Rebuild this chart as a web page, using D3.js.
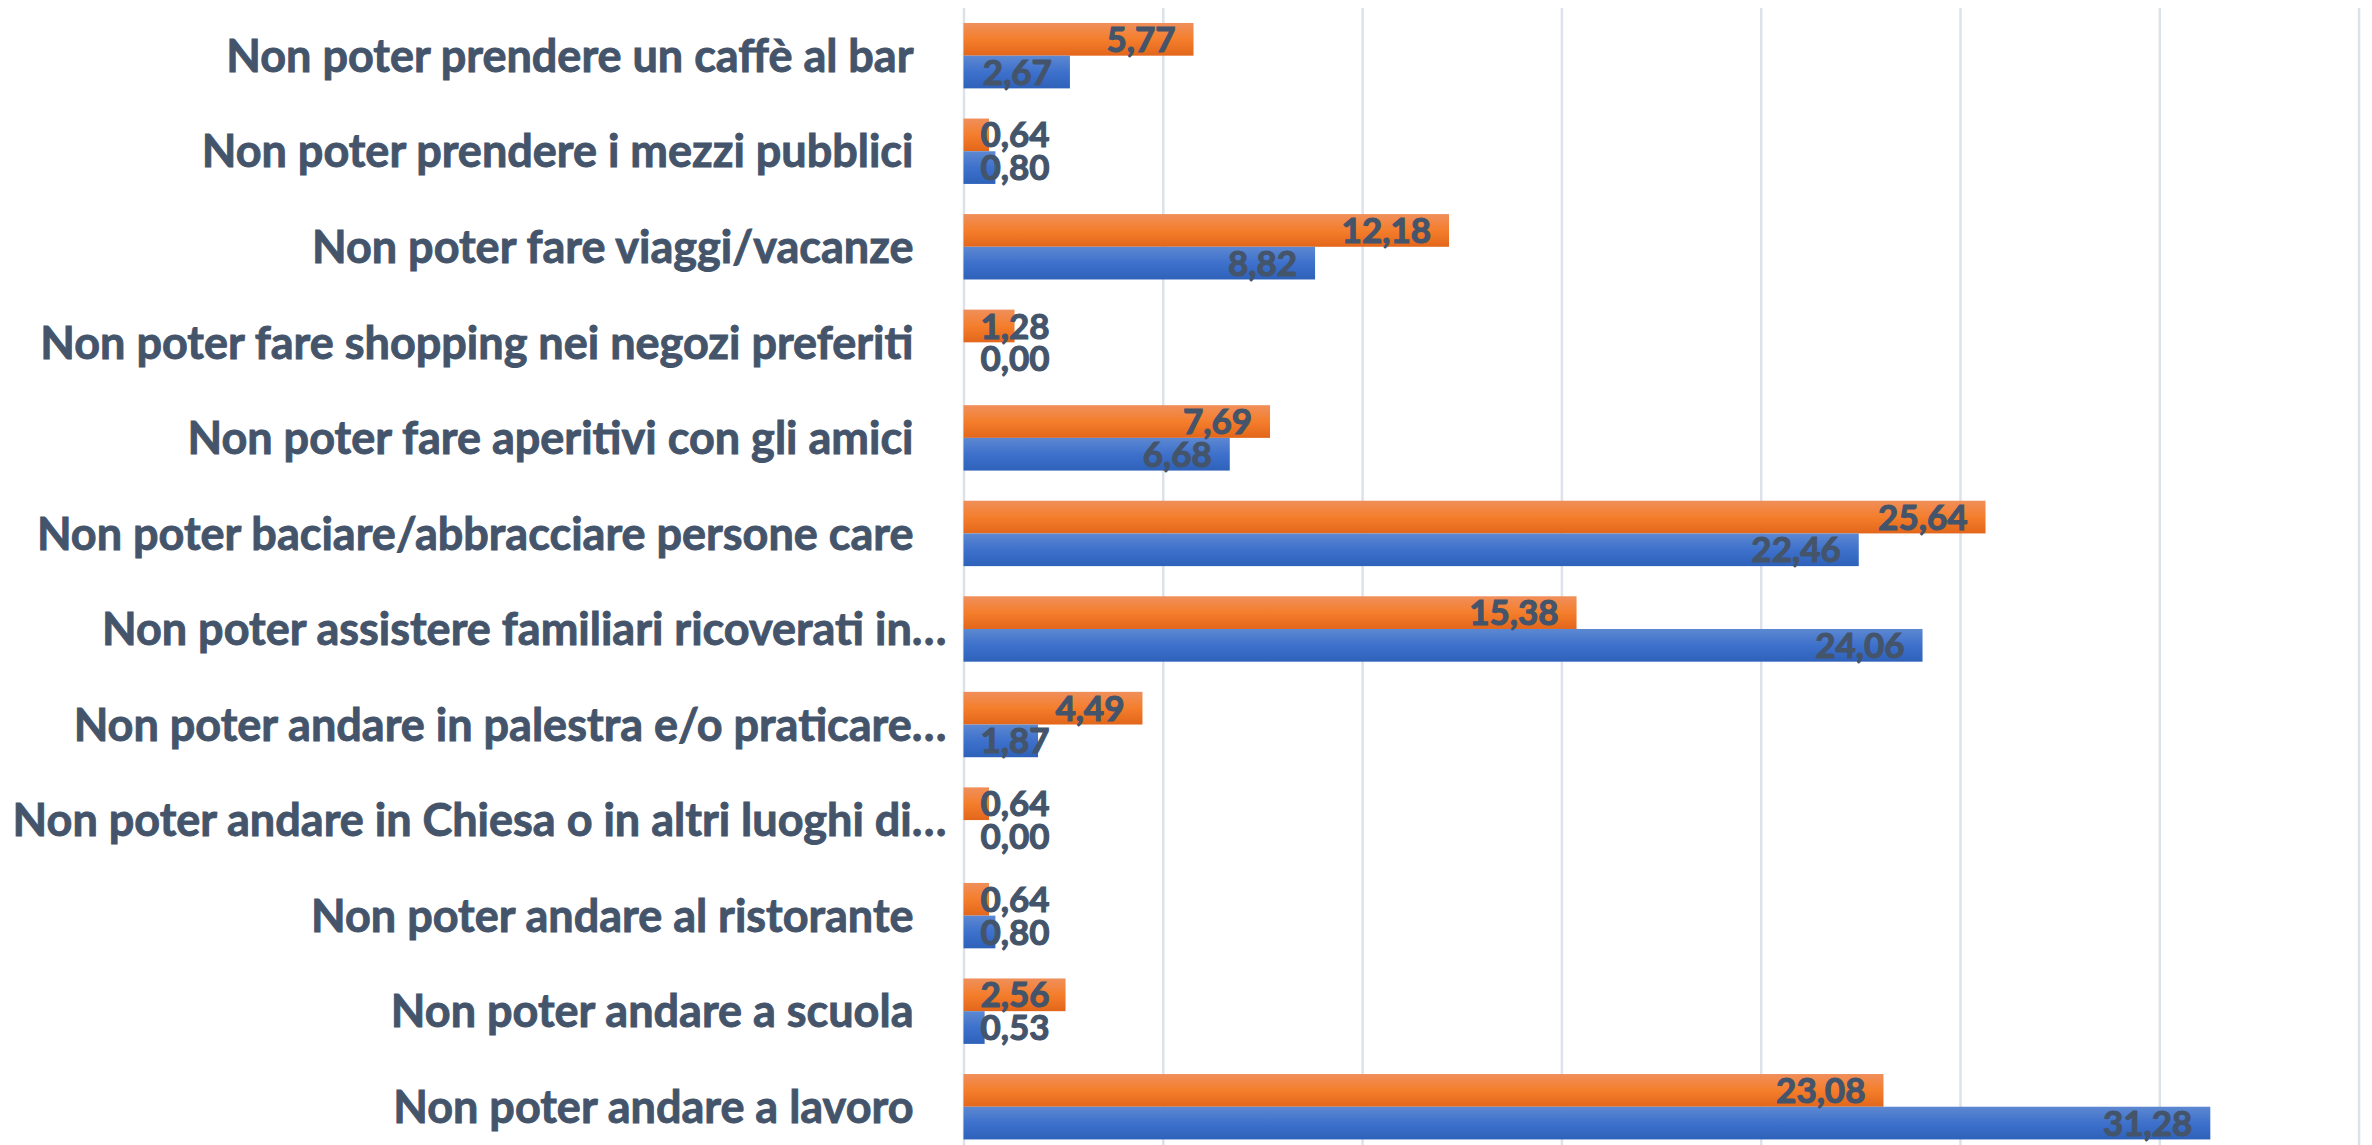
<!DOCTYPE html>
<html><head><meta charset="utf-8">
<script src="https://cdn.jsdelivr.net/npm/d3@7"></script>
<style>html,body{margin:0;padding:0;background:#fff;overflow:hidden}</style>
</head><body>
<svg id="c" width="2372" height="1145"></svg>
<script>
const categories = [
  "Non poter prendere un caffè al bar",
  "Non poter prendere i mezzi pubblici",
  "Non poter fare viaggi/vacanze",
  "Non poter fare shopping nei negozi preferiti",
  "Non poter fare aperitivi con gli amici",
  "Non poter baciare/abbracciare persone care",
  "Non poter assistere familiari ricoverati in…",
  "Non poter andare in palestra e/o praticare…",
  "Non poter andare in Chiesa o in altri luoghi di…",
  "Non poter andare al ristorante",
  "Non poter andare a scuola",
  "Non poter andare a lavoro"
];
const seriesOrange = [5.77, 0.64, 12.18, 1.28, 7.69, 25.64, 15.38, 4.49, 0.64, 0.64, 2.56, 23.08];
const seriesBlue   = [2.67, 0.80, 8.82, 0.00, 6.68, 22.46, 24.06, 1.87, 0.00, 0.80, 0.53, 31.28];
const xTicks = [0, 5, 10, 15, 20, 25, 30, 35];

const svg = d3.select("#c");
const fontFam = "Lato, 'Open Sans', sans-serif";
const textCol = "#44546A";

const x = d3.scaleLinear().domain([0, 35]).range([963.5, 2358.6]);
const y = d3.scaleBand().domain(categories).range([7.9, 1154.5]).paddingInner(0.3155).paddingOuter(0.3155/2);
const ys = d3.scaleBand().domain(["o","b"]).range([0, y.bandwidth()]);

const defs = svg.append("defs");
function grad(id, stops){
  const g = defs.append("linearGradient").attr("id", id).attr("x1",0).attr("y1",0).attr("x2",0).attr("y2",1);
  stops.forEach(s => g.append("stop").attr("offset", s[0]).attr("stop-color", s[1]));
}
grad("gO", [[0,"#F08F5B"],[0.5,"#F47E2C"],[1,"#E3661A"]]);
grad("gB", [[0,"#5D88D1"],[0.5,"#3E71CC"],[1,"#2E61B9"]]);

// gridlines
const gridG = svg.append("g")
  .call(d3.axisBottom(x).tickValues(xTicks).tickSize(1145 - 8).tickFormat(""));
gridG.attr("transform", "translate(0,8)");
gridG.select(".domain").remove();
gridG.selectAll(".tick line").attr("stroke", "#DDE2EA").attr("stroke-width", 2.5);

// category labels
svg.append("g").selectAll("text").data(categories).join("text")
  .attr("x", d => x(0) - (d.endsWith("…") ? 17 : 50))
  .attr("y", d => y(d) + y.bandwidth()/2)
  .attr("dy", "0.36em")
  .attr("text-anchor", "end")
  .attr("font-family", fontFam).attr("font-weight", 700)
  .attr("font-size", 45)
  .attr("fill", textCol)
  .attr("stroke", textCol).attr("stroke-width", 0.9)
  .text(d => d);

const data = [];
categories.forEach((c, i) => {
  data.push({c, k: "o", v: seriesOrange[i]});
  data.push({c, k: "b", v: seriesBlue[i]});
});

svg.append("g").selectAll("rect").data(data).join("rect")
  .attr("x", x(0))
  .attr("y", d => y(d.c) + ys(d.k))
  .attr("width", d => x(d.v) - x(0))
  .attr("height", ys.bandwidth())
  .attr("fill", d => d.k === "o" ? "url(#gO)" : "url(#gB)");

const fmt = v => v.toFixed(2).replace(".", ",");
const lbl = svg.append("g").selectAll("text").data(data).join("text")
  .attr("y", d => y(d.c) + ys(d.k) + ys.bandwidth()/2)
  .attr("dy", "0.36em")
  .attr("font-family", fontFam).attr("font-weight", 700)
  .attr("font-size", 35)
  .attr("fill", textCol)
  .attr("stroke", textCol).attr("stroke-width", 1.1)
  .text(d => fmt(d.v));
lbl.each(function(d){
  const w = this.getComputedTextLength();
  const start = Math.max(x(d.v) - 18 - w, x(0) + 17);
  d3.select(this).attr("x", start);
});
</script>
</body></html>
